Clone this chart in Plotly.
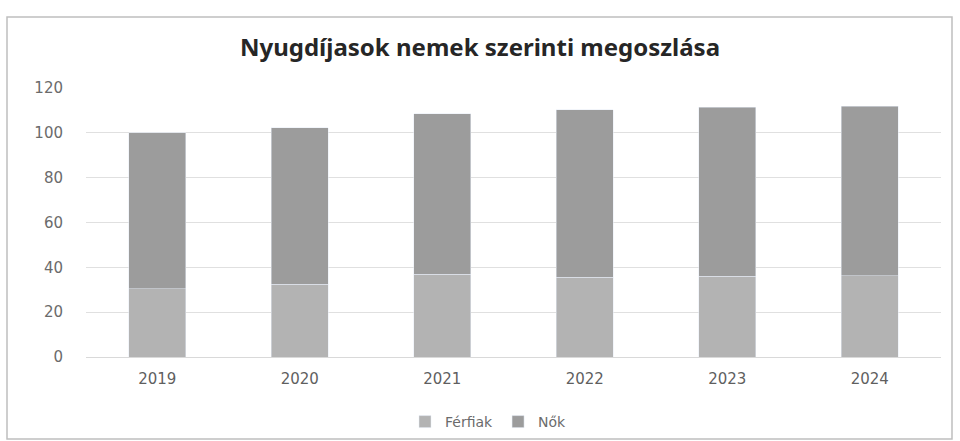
import plotly.graph_objects as go

years = ["2019", "2020", "2021", "2022", "2023", "2024"]
ferfiak = [30.5, 32.5, 37.0, 35.5, 36.0, 36.3]
nok = [69.5, 69.8, 71.5, 74.8, 75.5, 75.5]
y_ticks = [0, 20, 40, 60, 80, 100, 120]

H = 450
S = H / 441.0

fig = go.Figure()
fig.add_trace(go.Bar(x=years, y=ferfiak, name="Férfiak", marker_color="#b3b3b3"))
fig.add_trace(go.Bar(x=years, y=nok, name="Nők", marker_color="#9c9c9c"))

fig.update_layout(
    barmode="stack",
    bargap=0.6,
    width=960, height=H,
    margin=dict(l=86, r=19, t=86 * S, b=(441 - 355) * S),
    paper_bgcolor="white", plot_bgcolor="white",
    title=dict(text="<b>Nyugdíjasok nemek szerinti megoszlása</b>", x=0.5, xanchor="center",
               y=1 - 47 / 441, yanchor="middle",
               font=dict(family="Noto Sans", size=24, color="#262626")),
    font=dict(family="DejaVu Sans", color="#6b6b6b", size=15),
    legend=dict(orientation="h", x=(405 - 86) / 855, xanchor="left", y=(355 - 420) / 269, yanchor="middle",
                font=dict(size=14, color="#6b6b6b"), traceorder="normal", itemwidth=30),
    xaxis=dict(showgrid=False, showline=True, linecolor="#d9d9d9", ticks="",
               ticklabelstandoff=8,
               tickfont=dict(size=15, color="#5f5f5f")),
    yaxis=dict(range=[0, 120], tickvals=y_ticks, showgrid=True, gridcolor="#e0e0e0",
               zeroline=False, ticks="", ticklabelstandoff=22,
               tickfont=dict(size=15, color="#6b6b6b")),
    shapes=[dict(type="rect", xref="paper", yref="paper",
                 x0=(7 - 86) / 855, x1=(952 - 86) / 855,
                 y0=(355 - 437) / 269, y1=(355 - 15) / 269,
                 line=dict(color="#bfbfbf", width=1.5), fillcolor="rgba(0,0,0,0)", layer="below")],
)

post = "document.body.style.margin='0';"
fig.write_html("out.html", post_script=post, config={"displayModeBar": False})
